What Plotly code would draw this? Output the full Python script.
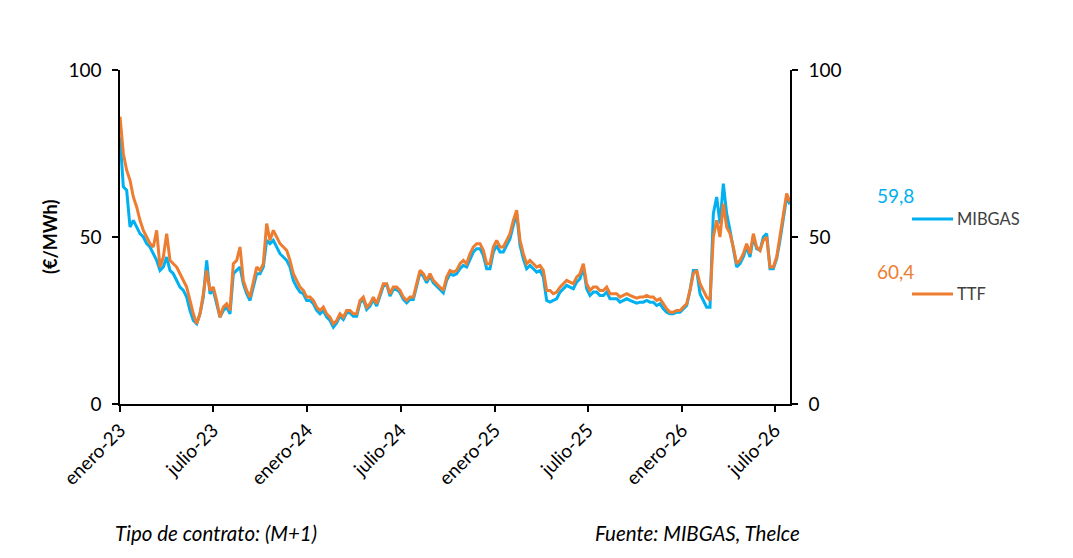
import pandas as pd
import plotly.graph_objects as go

# ---- data ----
ttf = [86, 75, 70, 67, 62, 59, 55, 52, 50, 48, 47, 52, 41, 44, 51, 43, 42, 41, 39, 37,
       35, 31, 27, 24, 27, 33, 40, 34, 35, 31, 26, 29,
       30, 28, 42, 43, 47, 37, 34, 32, 37, 41, 40, 42, 54, 49, 52, 50, 48, 47, 46, 43,
       39, 37, 35, 34, 32, 32, 31, 29, 28, 29, 27, 26, 24,
       25, 27, 26, 28, 28, 27, 27, 31, 32, 29, 30, 32, 30, 33, 36, 36, 33, 35, 35, 34,
       32, 31, 32, 32, 36, 40, 39, 37, 39, 37, 36, 35, 34,
       38, 40, 39.5, 40, 42, 43, 42, 45, 47, 48, 48, 46, 42, 42, 47, 49, 47, 47, 49, 51,
       55, 58, 49, 45, 42, 43, 42, 41, 41.5, 40, 34, 34, 33,
       33.5, 35, 36, 37, 36.5, 36, 38, 39, 42, 36, 34, 35, 35, 34, 34, 35, 33, 33, 33, 32,
       32.5, 33, 32.5, 32, 31.7, 32, 32, 32.5, 32, 32, 31, 31.5, 30, 28.5,
       27.5, 27.5, 28, 28, 29, 30, 34, 39, 40, 36, 34, 32, 31, 50, 55, 50, 60, 53, 51, 47,
       42, 43, 45, 48, 45, 51, 47, 46, 49, 50, 41, 41, 44, 50, 57, 63, 60.4]

mibgas = [80, 65, 64, 53, 55, 53, 51, 50, 48, 47, 45, 43, 40, 41, 44, 40, 39, 37, 35, 34,
          32, 28, 25, 24, 27, 32, 43, 33, 34, 30, 26, 28,
          29, 27, 39, 40, 41, 36, 33, 31, 35, 39, 39, 41, 49, 48, 49, 47, 45, 44, 43, 41,
          37, 35, 33.5, 33, 31, 31, 30, 28, 27, 28, 26, 25, 23,
          24.3, 26.3, 25.3, 27.3, 27.3, 26.3, 26.3, 30.3, 31.3, 28.3, 29.3, 31.3, 29.3, 32.3,
          35.3, 35.8, 32.3, 34.3, 34.3, 33.3, 31.3, 30.3, 31.3, 31.3, 35.3, 39.3, 38.3, 36.3,
          38.3, 36.3, 35.3, 34.3, 33.3,
          37, 39, 38.5, 39, 40.5, 41.5, 41, 43.5, 45.5, 46.5, 46.5, 44.5, 40.5, 40.5, 45.5,
          47.5, 45.5, 45.5, 47.5, 49.5, 53.5, 57, 47.5, 43.5, 40.5, 41.5, 40.5, 39.5, 40, 38,
          31, 30.5, 31,
          31.5, 33.5, 34.5, 35.5, 35, 34.5, 36.5, 37.5, 41, 34.5, 32.5, 33.5, 33.5, 32.5, 32.5,
          33.5, 31.5, 31.5, 31.5, 30.5, 31, 31.5, 31, 30.5, 30.2, 30.5, 30.5, 31, 30.5, 30.5,
          29.5, 30, 28.5, 27.5,
          27, 27, 27.5, 27.5, 28.5, 29.5, 34, 40, 40, 33, 31, 29, 29, 57, 62, 54, 66, 57, 52,
          47, 41, 42, 44, 47, 44, 50, 46.5, 46, 50, 51, 40.5, 40.5, 43.5, 49, 56, 62, 59.8]

dates = pd.date_range("2023-01-01", periods=len(ttf), freq="156h")

tick_dates = ["2023-01-01", "2023-07-01", "2024-01-01", "2024-07-01",
              "2025-01-01", "2025-07-01", "2026-01-01", "2026-07-01"]
tick_labels = ["enero-23", "julio-23", "enero-24", "julio-24",
               "enero-25", "julio-25", "enero-26", "julio-26"]

series_names = ["MIBGAS", "TTF"]
last_values = ["59,8", "60,4"]
colors = ["#00B0F0", "#ED7D31"]

FONT = "Lato"

# plot area (in page pixels, page body has 8px offset)
PL, PR, PT, PB = 120, 790, 70, 404
OFF = 8
W, H = 1073, 558


def px(sx):
    return (sx - PL) / (PR - PL)


def py(sy):
    return (PB - sy) / (PB - PT)


fig = go.Figure()
fig.add_trace(go.Scatter(x=dates, y=mibgas, mode="lines", name="MIBGAS",
                         line=dict(color=colors[0], width=3), showlegend=False))
fig.add_trace(go.Scatter(x=dates, y=ttf, mode="lines", name="TTF",
                         line=dict(color=colors[1], width=3), showlegend=False))
fig.add_trace(go.Scatter(x=[dates[0]], y=[0], yaxis="y2", mode="markers",
                         marker=dict(opacity=0), showlegend=False, hoverinfo="skip"))

axis_common = dict(
    range=[0, 100], tickvals=[0, 50, 100],
    ticks="outside", ticklen=6, tickcolor="#000000", tickwidth=1.5,
    showline=True, linecolor="#000000", linewidth=1.5,
    showgrid=False, zeroline=False, ticklabelstandoff=7,
    tickfont=dict(family=FONT, size=19, color="#000000"),
)

fig.update_layout(
    width=W, height=H,
    margin=dict(l=PL - OFF, r=W - (PR - OFF), t=PT - OFF, b=H - (PB - OFF)),
    paper_bgcolor="white", plot_bgcolor="white",
    font=dict(family=FONT, size=19, color="#000000"),
    xaxis=dict(
        type="date", range=[dates[0], dates[-1]],
        tickvals=tick_dates, ticktext=tick_labels, tickangle=-45,
        ticks="outside", ticklen=6, tickcolor="#000000", tickwidth=1.5,
        showline=True, linecolor="#000000", linewidth=1.5,
        showgrid=False, zeroline=False,
        tickfont=dict(family=FONT, size=19, color="#000000"),
    ),
    yaxis=axis_common,
    yaxis2=dict(axis_common, overlaying="y", side="right"),
)

fig.add_annotation(xref="paper", yref="paper", x=px(50), y=py(237),
                   text="<b>(€/MWh)</b>", textangle=-90, showarrow=False,
                   xanchor="center", yanchor="middle",
                   font=dict(family=FONT, size=18, color="#000000"))

# custom legend at the right
value_y = [195, 271]
line_y = [219, 294]
for i, name in enumerate(series_names):
    fig.add_annotation(xref="paper", yref="paper", x=px(875), y=py(value_y[i]),
                       text=last_values[i], showarrow=False, xanchor="left", yanchor="middle",
                       font=dict(family=FONT, size=19, color=colors[i]))
    fig.add_shape(type="line", xref="paper", yref="paper",
                  x0=px(912), x1=px(953), y0=py(line_y[i]), y1=py(line_y[i]),
                  line=dict(color=colors[i], width=3))
    fig.add_annotation(xref="paper", yref="paper", x=px(955), y=py(line_y[i]),
                       text=name, showarrow=False, xanchor="left", yanchor="middle",
                       font=dict(family=FONT, size=16.5, color="#404040"))

fig.add_annotation(xref="paper", yref="paper", x=px(113), y=py(533),
                   text="<i>Tipo de contrato: (M+1)</i>", showarrow=False,
                   xanchor="left", yanchor="middle",
                   font=dict(family=FONT, size=20.5, color="#000000"))
fig.add_annotation(xref="paper", yref="paper", x=px(802), y=py(533),
                   text="<i>Fuente: MIBGAS, Thelce</i>", showarrow=False,
                   xanchor="right", yanchor="middle",
                   font=dict(family=FONT, size=20.5, color="#000000"))

fig.write_html("out.html")
